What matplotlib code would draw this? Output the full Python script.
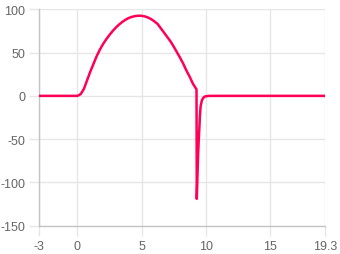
import matplotlib
matplotlib.use("Agg")
import matplotlib.pyplot as plt

x_vals = [-3, 0, 0.25, 0.5, 0.75, 1.0, 1.25, 1.5, 1.75, 2.0, 2.25, 2.5, 2.75, 3.0,
          3.25, 3.5, 3.75, 4.0, 4.25, 4.5, 4.75, 5.0, 5.25, 5.5, 5.75, 6.0, 6.25,
          6.5, 6.75, 7.0, 7.25, 7.5, 7.75, 8.0, 8.25, 8.5, 8.75, 9.0, 9.28,
          9.3, 9.35, 9.4, 9.45, 9.5, 9.55, 9.6, 9.7, 9.8, 9.9, 10.0, 10.3, 19.3]
y_vals = [0, 0, 2, 8, 18, 28, 37, 46, 53.5, 60, 65.5, 70.5, 75, 79,
          82.5, 85.5, 88, 90, 91.3, 92.2, 92.6, 92.5, 91.8, 90.5, 88.6, 86, 83,
          78, 73, 68, 63, 57, 50.5, 44, 37, 29, 22, 14, 7.5,
          -119, -95, -70, -52, -38, -22, -12, -5, -2.5, -1, -0.5, 0, 0]

x_ticks = [-3, 0, 5, 10, 15, 19.3]
x_tick_labels = ["-3", "0", "5", "10", "15", "19.3"]
y_ticks = [-150, -100, -50, 0, 50, 100]
y_tick_labels = ["-150", "-100", "-50", "0", "50", "100"]

plt.rcParams['font.family'] = ['Liberation Sans', 'DejaVu Sans']
plt.rcParams['axes.unicode_minus'] = False

fig = plt.figure(figsize=(3.4, 2.55), dpi=100)
ax = fig.add_axes([0.1147, 0.111, 0.956 - 0.1147, 0.9596 - 0.111])

ax.plot(x_vals, y_vals, color='#ff0055', linewidth=1.8, solid_joinstyle='round', zorder=3)

ax.set_xlim(-3, 19.3)
ax.set_ylim(-150, 100)
ax.set_xticks(x_ticks)
ax.set_xticklabels(x_tick_labels)
ax.set_yticks(y_ticks)
ax.set_yticklabels(y_tick_labels)

ax.grid(True, color='#e6e6e6', linewidth=1)
ax.set_axisbelow(True)
for side in ['top', 'right']:
    ax.spines[side].set_visible(False)
for side in ['left', 'bottom']:
    ax.spines[side].set_color('#c4c4c4')
    ax.spines[side].set_linewidth(1)

ax.tick_params(axis='both', length=7, width=1, color='#e6e6e6',
               labelcolor='#666666', labelsize=9)
ax.tick_params(axis='x', pad=3)
ax.tick_params(axis='y', pad=3)

fig.savefig('out.png', dpi=100)
